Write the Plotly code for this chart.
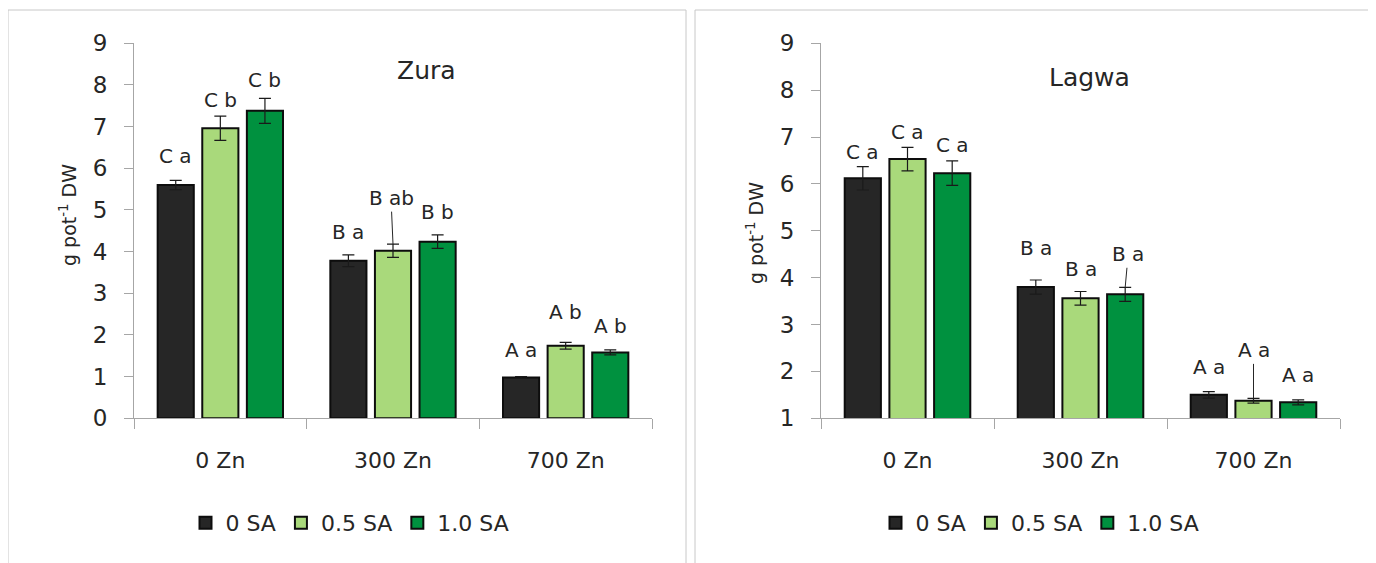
import plotly.graph_objects as go
from plotly.subplots import make_subplots

W, H = 1376, 563
OFF = 8  # page body margin in the browser

categories = ["0 Zn", "300 Zn", "700 Zn"]
series_names = ["0 SA", "0.5 SA", "1.0 SA"]

# Zura (left panel)
zura_0sa = [5.60, 3.78, 0.98]
zura_05sa = [6.96, 4.02, 1.74]
zura_10sa = [7.38, 4.24, 1.58]
zura_err_0sa = [0.11, 0.14, 0.02]
zura_err_05sa = [0.29, 0.16, 0.08]
zura_err_10sa = [0.30, 0.16, 0.06]
zura_letters_0sa = ["C a", "B a", "A a"]
zura_letters_05sa = ["C b", "B ab", "A b"]
zura_letters_10sa = ["C b", "B b", "A b"]

# Lagwa (right panel)
lagwa_0sa = [6.12, 3.80, 1.50]
lagwa_05sa = [6.53, 3.56, 1.375]
lagwa_10sa = [6.23, 3.645, 1.34]
lagwa_err_0sa = [0.25, 0.15, 0.07]
lagwa_err_05sa = [0.25, 0.145, 0.05]
lagwa_err_10sa = [0.26, 0.15, 0.055]
lagwa_letters_0sa = ["C a", "B a", "A a"]
lagwa_letters_05sa = ["C a", "B a", "A a"]
lagwa_letters_10sa = ["C a", "B a", "A a"]

colors = ["#262626", "#A9D97B", "#00913F"]
FONT = "DejaVu Sans"
TXT = "#262626"
AX = "#a6a6a6"

BARGAP = 0.225
BARGROUPGAP = 0.19

# label placement styles (pixel offsets above error bar top); tuple -> leader line (ax, ay)
zura_shift = [[24, 23, 27], [16, (-2, -46), 30], [18, 23, 24]]
lagwa_shift = [[15, 32, 25], [15, 22, (0, -48)], [16, (3, -33), 25]]

fig = make_subplots(rows=1, cols=2)

panels = [
    dict(col=1, vals=[zura_0sa, zura_05sa, zura_10sa],
         errs=[zura_err_0sa, zura_err_05sa, zura_err_10sa],
         letters=[zura_letters_0sa, zura_letters_05sa, zura_letters_10sa],
         shifts=zura_shift, legend="legend", xref="x", yref="y"),
    dict(col=2, vals=[lagwa_0sa, lagwa_05sa, lagwa_10sa],
         errs=[lagwa_err_0sa, lagwa_err_05sa, lagwa_err_10sa],
         letters=[lagwa_letters_0sa, lagwa_letters_05sa, lagwa_letters_10sa],
         shifts=lagwa_shift, legend="legend2", xref="x2", yref="y2"),
]

LBL = dict(family=FONT, size=20, color=TXT)

slot = (1 - BARGAP) / 3
annotations = []
for p in panels:
    for j in range(3):
        fig.add_trace(go.Bar(
            x=categories, y=p["vals"][j], name=series_names[j],
            marker=dict(color=colors[j], line=dict(color="#0d0d0d", width=2)),
            error_y=dict(type="data", array=p["errs"][j], color="#1a1a1a",
                         thickness=1.2, width=6),
            legend=p["legend"], showlegend=True,
        ), row=1, col=p["col"])
        for i in range(3):
            xpos = i + (j - 1) * slot
            ytop = p["vals"][j][i] + p["errs"][j][i]
            s = p["shifts"][j][i]
            if isinstance(s, tuple):
                annotations.append(dict(
                    x=xpos, y=ytop, xref=p["xref"], yref=p["yref"],
                    text=p["letters"][j][i], showarrow=True, arrowhead=0,
                    arrowwidth=1, arrowcolor="#262626", ax=s[0], ay=s[1],
                    xanchor="center", yanchor="middle",
                    standoff=0, font=LBL))
            else:
                annotations.append(dict(
                    x=xpos, y=ytop, xref=p["xref"], yref=p["yref"],
                    text=p["letters"][j][i], showarrow=False,
                    xanchor="center", yanchor="middle",
                    yshift=s, font=LBL))


def px(x):
    return (x - OFF) / W


def py(y):
    return 1 - (y - OFF) / H


annotations += [
    dict(x=px(426), y=py(71), xref="paper", yref="paper", text="Zura",
         xanchor="center", yanchor="middle",
         showarrow=False, font=dict(family=FONT, size=25, color=TXT)),
    dict(x=px(1089), y=py(78), xref="paper", yref="paper", text="Lagwa",
         xanchor="center", yanchor="middle",
         showarrow=False, font=dict(family=FONT, size=25, color=TXT)),
    dict(x=px(68), y=py(215), xref="paper", yref="paper", text="g pot<sup>-1</sup> DW",
         xanchor="center", yanchor="middle",
         textangle=-90, showarrow=False, font=dict(family=FONT, size=19, color=TXT)),
    dict(x=px(755), y=py(233), xref="paper", yref="paper", text="g pot<sup>-1</sup> DW",
         xanchor="center", yanchor="middle",
         textangle=-90, showarrow=False, font=dict(family=FONT, size=19, color=TXT)),
]

shapes = [
    dict(type="rect", xref="paper", yref="paper", x0=px(8), x1=px(686), y0=-0.05, y1=py(10),
         line=dict(color="#c8c8c8", width=1)),
    dict(type="rect", xref="paper", yref="paper", x0=px(695), x1=px(1373), y0=-0.05, y1=py(10),
         line=dict(color="#c8c8c8", width=1)),
]

xaxis_style = dict(type="category", range=[-0.5, 2.5], showline=True, linecolor=AX, linewidth=1,
                   ticks="outside", tickson="boundaries", ticklen=10, tickcolor=AX,
                   showgrid=False, zeroline=False, ticklabelstandoff=22, automargin=False,
                   tickfont=dict(family=FONT, size=22, color=TXT))
yaxis_style = dict(showline=True, linecolor=AX, linewidth=1, ticks="outside", ticklen=9,
                   tickcolor=AX, dtick=1, showgrid=False, zeroline=False, automargin=False,
                   ticklabelstandoff=12, tickfont=dict(family=FONT, size=23, color=TXT))

fig.update_layout(
    width=W, height=H, margin=dict(l=0, r=0, t=0, b=0, autoexpand=False),
    paper_bgcolor="white", plot_bgcolor="white",
    barmode="group", bargap=BARGAP, bargroupgap=BARGROUPGAP,
    xaxis=dict(domain=[px(134), px(652)], **xaxis_style),
    xaxis2=dict(domain=[px(821), px(1340)], **xaxis_style),
    yaxis=dict(domain=[py(418.3), py(43.3)], range=[0, 9], **yaxis_style),
    yaxis2=dict(domain=[py(418.3), py(43.3)], range=[1, 9], **yaxis_style),
    legend=dict(orientation="h", x=px(350), y=py(523), xanchor="center", yanchor="middle",
                font=dict(family=FONT, size=22, color=TXT), itemclick=False),
    legend2=dict(orientation="h", x=px(1040), y=py(523), xanchor="center", yanchor="middle",
                 font=dict(family=FONT, size=22, color=TXT), itemclick=False),
    annotations=annotations, shapes=shapes,
)

fig.write_html("out.html")
